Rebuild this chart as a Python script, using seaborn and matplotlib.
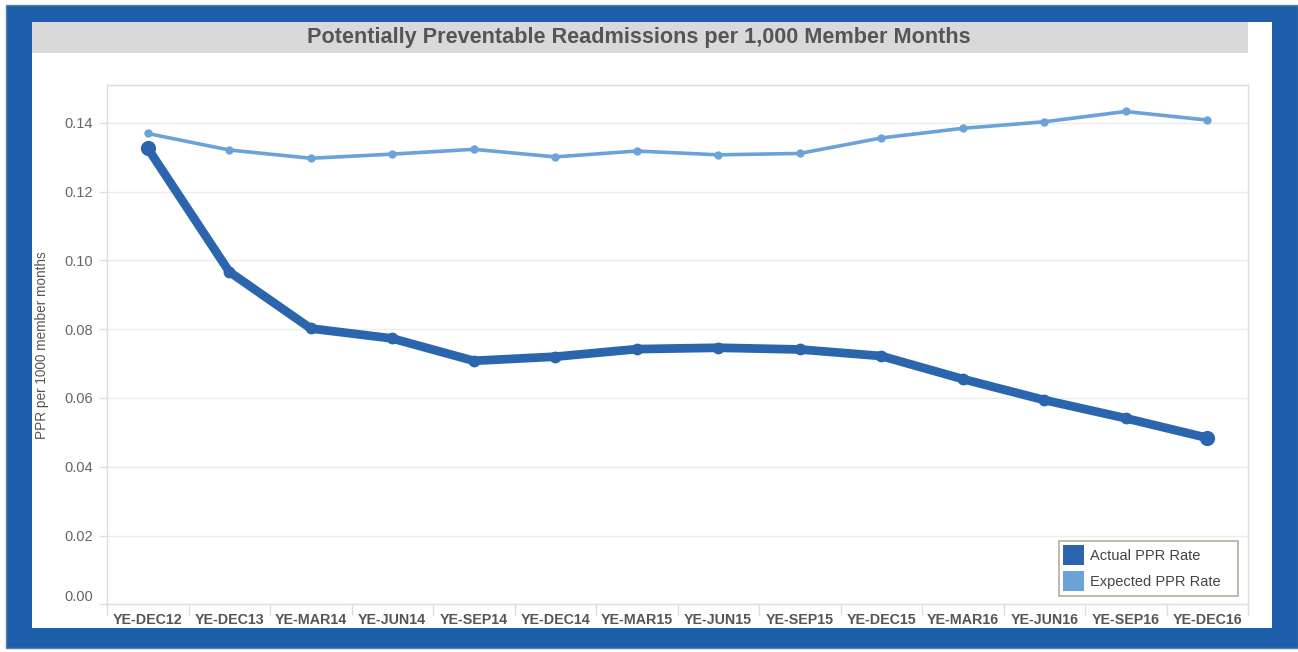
import numpy as np
import pandas as pd
import matplotlib
matplotlib.use("Agg")
import matplotlib.pyplot as plt
import seaborn as sns
from matplotlib.patches import Rectangle, Patch

# ---------------- data ----------------
periods = ["YE-DEC12", "YE-DEC13", "YE-MAR14", "YE-JUN14", "YE-SEP14", "YE-DEC14",
           "YE-MAR15", "YE-JUN15", "YE-SEP15", "YE-DEC15", "YE-MAR16", "YE-JUN16",
           "YE-SEP16", "YE-DEC16"]
actual_ppr = [0.1326, 0.0967, 0.0802, 0.0773, 0.0708, 0.0720, 0.0742, 0.0746,
              0.0741, 0.0722, 0.0655, 0.0594, 0.0541, 0.0484]
expected_ppr = [0.1369, 0.1321, 0.1297, 0.1309, 0.1323, 0.1301, 0.1318, 0.1307,
                0.1311, 0.1356, 0.1384, 0.1403, 0.1433, 0.1408]
y_ticks = [0.00, 0.02, 0.04, 0.06, 0.08, 0.10, 0.12, 0.14]
series_names = ["Actual PPR Rate", "Expected PPR Rate"]
title_text = "Potentially Preventable Readmissions per 1,000 Member Months"
y_label = "PPR per 1000 member months"

# ---------------- style ----------------
FRAME_BLUE = "#1c5ea9"
ACTUAL_C = "#2b65ae"
EXPECTED_C = "#6ba3d8"
GRID_C = "#ececec"
SPINE_C = "#dddddd"

sns.set_theme(style="white")
plt.rcParams["font.family"] = ["Liberation Sans", "DejaVu Sans"]

W, H = 1298, 652
fig = plt.figure(figsize=(W / 100, H / 100), dpi=100)
fig.patch.set_facecolor("white")

def fx(px):
    return px / W

def fy(py):
    return 1 - py / H

# outer blue frame
fig.patches.append(Rectangle((fx(6), fy(648)), fx(W - 6), (648 - 5) / H,
                             transform=fig.transFigure, facecolor=FRAME_BLUE,
                             edgecolor="#5f7fa8", linewidth=1.0, zorder=-3))
# inner white panel
fig.patches.append(Rectangle((fx(32), fy(628)), fx(1272 - 32), (628 - 22) / H,
                             transform=fig.transFigure, facecolor="white",
                             edgecolor="none", zorder=-2))
# grey title band
fig.patches.append(Rectangle((fx(32), fy(53)), fx(1248 - 32), (53 - 22) / H,
                             transform=fig.transFigure, facecolor="#d9d9d9",
                             edgecolor="none", zorder=-1))
fig.text(fx(639), fy(38), title_text, ha="center", va="center",
         fontsize=15.6, fontweight="bold", color="#555555")

# ---------------- axes ----------------
ax = fig.add_axes([fx(107), fy(604.3), fx(1248 - 107), (604.3 - 85) / H])
ax.set_zorder(2)
ax.set_facecolor("white")

df = pd.DataFrame({
    "period": periods * 2,
    "rate": actual_ppr + expected_ppr,
    "series": [series_names[0]] * len(periods) + [series_names[1]] * len(periods),
})
df_act = df[df["series"] == series_names[0]]
df_exp = df[df["series"] == series_names[1]]

sns.lineplot(data=df_exp, x="period", y="rate", sort=False, color=EXPECTED_C,
             linewidth=2.6, marker="o", markersize=6, markeredgewidth=0,
             legend=False, ax=ax, zorder=3)
sns.lineplot(data=df_act, x="period", y="rate", sort=False, color=ACTUAL_C,
             linewidth=6.3, marker="o", markersize=8.5, markeredgewidth=0,
             legend=False, ax=ax, zorder=4)
ends = df_act.iloc[[0, -1]]
sns.scatterplot(data=ends, x="period", y="rate", color=ACTUAL_C, s=120,
                linewidth=0, legend=False, ax=ax, zorder=5)

ax.set_xlim(-0.5, len(periods) - 0.5)
ax.set_ylim(0, 0.151)
ax.set_yticks(y_ticks)
ax.set_yticklabels([f"{v:.2f}" for v in y_ticks])
ax.set_xticks(range(len(periods)))
ax.set_xticklabels(periods)
ax.set_xticks(np.arange(-0.5, len(periods), 1.0), minor=True)

ax.grid(axis="y", color=GRID_C, linewidth=1.0, zorder=0)
ax.grid(axis="x", visible=False)
ax.set_axisbelow(True)
for s in ax.spines.values():
    s.set_color(SPINE_C)
    s.set_linewidth(1.0)
    s.set_visible(True)

ax.tick_params(axis="y", which="major", left=True, length=6, width=1,
               color=SPINE_C, pad=4, labelsize=10.5, labelcolor="#666666")
ax.tick_params(axis="x", which="major", bottom=False, length=0, pad=6,
               labelsize=10.3, labelcolor="#555555")
ax.tick_params(axis="x", which="minor", bottom=True, length=8, width=1,
               color=SPINE_C)
for lbl in ax.get_xticklabels():
    lbl.set_fontweight("bold")
ax.get_yticklabels()[0].set_va("bottom")

ax.set_xlabel("")
ax.set_ylabel(y_label, fontsize=9.8, color="#555555")
ax.yaxis.set_label_coords((49 - 107) / (1248 - 107), 0.5)

# legend (frame drawn as a separate box to match the reference's padding)
handles = [Patch(facecolor=ACTUAL_C, edgecolor="none"),
           Patch(facecolor=EXPECTED_C, edgecolor="none")]
leg = fig.legend(handles, series_names, loc="upper left",
                 bbox_to_anchor=(fx(1061), fy(543)), bbox_transform=fig.transFigure,
                 fontsize=10.5, frameon=False,
                 handlelength=1.4, handleheight=1.75,
                 handletextpad=0.45, labelspacing=0.4, borderpad=0.15,
                 borderaxespad=0)
leg.set_zorder(6)
for t in leg.get_texts():
    t.set_color("#444444")
fig.patches.append(Rectangle((fx(1059), fy(596)), fx(1238 - 1059), (596 - 541) / H,
                             transform=fig.transFigure, facecolor="white",
                             edgecolor="#b5ad9c", linewidth=1.2, zorder=5))

fig.savefig("out.png", dpi=100, facecolor="white")
